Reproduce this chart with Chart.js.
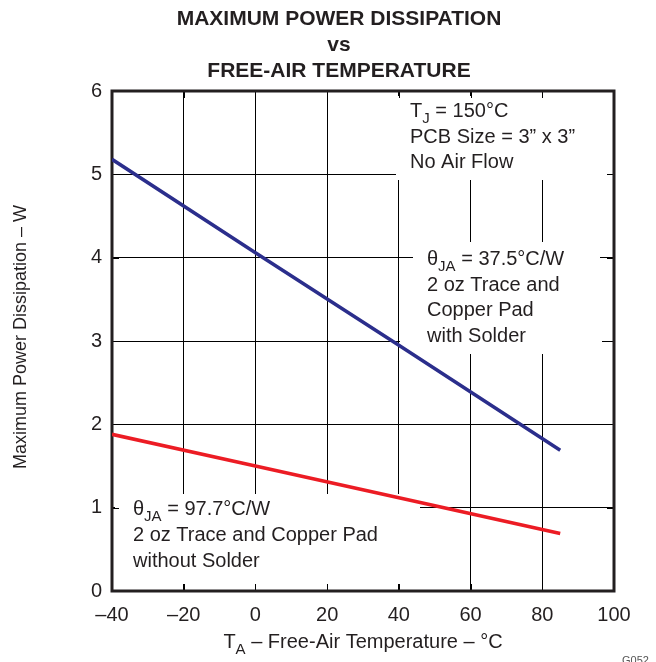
<!DOCTYPE html>
<html>
<head>
<meta charset="utf-8">
<script src="https://cdn.jsdelivr.net/npm/chart.js@4"></script>
<style>html,body{margin:0;padding:0;background:#fff;}</style>
</head>
<body>
<canvas id="myChart" width="656" height="662"></canvas>
<script>
// values
const temps = [-40, 0, 40, 85];
const power375 = [5.18, 4.06, 2.95, 1.69];   // theta JA = 37.5 C/W, with solder
const power977 = [1.88, 1.50, 1.12, 0.69];   // theta JA = 97.7 C/W, without solder
const xTickValues = [-40, -20, 0, 20, 40, 60, 80, 100];
const yTickValues = [0, 1, 2, 3, 4, 5, 6];

const ink = '#231f20';
const font = 'Liberation Sans, Arial, Helvetica, sans-serif';

function pts(xs, ys) {
  return xs.map((x, i) => ({x: x, y: ys[i]}));
}

// draw text with subscripts, parts = [[text, isSub], ...]
function rich(ctx, x, y, parts, size, align) {
  let w = 0;
  parts.forEach(p => {
    ctx.font = (p[1] ? Math.round(size * 0.75) : size) + 'px ' + font;
    w += ctx.measureText(p[0]).width;
  });
  let cx = align === 'center' ? x - w / 2 : x;
  parts.forEach(p => {
    const s = p[1] ? Math.round(size * 0.75) : size;
    ctx.font = s + 'px ' + font;
    ctx.fillText(p[0], cx, p[1] ? y + size * 0.3 : y);
    cx += ctx.measureText(p[0]).width;
  });
}

const boxes = [
  [396, 96, 609, 180],
  [413, 242, 600, 300],
  [400, 300, 602, 354],
  [115, 494, 420, 584]
];

const paper = {
  id: 'paper',
  beforeDatasetsDraw(chart) {
    const ctx = chart.ctx, a = chart.chartArea;
    const sx = chart.scales.x, sy = chart.scales.y;
    ctx.save();
    ctx.fillStyle = '#fff';
    boxes.forEach(b => ctx.fillRect(b[0], b[1], b[2] - b[0], b[3] - b[1]));
    // inner tick stubs
    ctx.strokeStyle = '#000';
    ctx.lineWidth = 1;
    ctx.beginPath();
    xTickValues.forEach(v => {
      const px = Math.round(sx.getPixelForValue(v)) + 0.5;
      ctx.moveTo(px, a.top); ctx.lineTo(px, a.top + 7);
      ctx.moveTo(px, a.bottom); ctx.lineTo(px, a.bottom - 7);
    });
    yTickValues.forEach(v => {
      const py = Math.round(sy.getPixelForValue(v)) + 0.5;
      ctx.moveTo(a.left, py); ctx.lineTo(a.left + 7, py);
      ctx.moveTo(a.right, py); ctx.lineTo(a.right - 7, py);
    });
    ctx.stroke();
    ctx.strokeStyle = ink;
    ctx.lineWidth = 3;
    ctx.strokeRect(a.left, a.top, a.right - a.left, a.bottom - a.top);
    ctx.restore();
  },
  afterDraw(chart) {
    const ctx = chart.ctx;
    ctx.save();
    ctx.fillStyle = ink;
    ctx.textBaseline = 'alphabetic';
    // title
    ctx.textAlign = 'center';
    ctx.font = 'bold 21px ' + font;
    ctx.fillText('MAXIMUM POWER DISSIPATION', 339, 25);
    ctx.fillText('vs', 339, 51);
    ctx.fillText('FREE-AIR TEMPERATURE', 339, 77);
    ctx.textAlign = 'left';
    // notes
    rich(ctx, 410, 117, [['T', false], ['J', true], [' = 150\u00b0C', false]], 20);
    rich(ctx, 410, 143, [['PCB Size = 3\u201d x 3\u201d', false]], 20);
    rich(ctx, 410, 168, [['No Air Flow', false]], 20);
    rich(ctx, 427, 265, [['\u03b8', false], ['JA', true], [' = 37.5\u00b0C/W', false]], 20);
    rich(ctx, 427, 291, [['2 oz Trace and', false]], 20);
    rich(ctx, 427, 316, [['Copper Pad', false]], 20);
    rich(ctx, 427, 342, [['with Solder', false]], 20);
    rich(ctx, 133, 515, [['\u03b8', false], ['JA', true], [' = 97.7\u00b0C/W', false]], 20);
    rich(ctx, 133, 541, [['2 oz Trace and Copper Pad', false]], 20);
    rich(ctx, 133, 567, [['without Solder', false]], 20);
    // axis titles
    rich(ctx, 363, 648, [['T', false], ['A', true], [' \u2013 Free-Air Temperature \u2013 \u00b0C', false]], 20, 'center');
    ctx.translate(26, 337);
    ctx.rotate(-Math.PI / 2);
    rich(ctx, 0, 0, [['Maximum Power Dissipation \u2013 W', false]], 18, 'center');
    ctx.restore();
    ctx.save();
    ctx.fillStyle = '#555';
    ctx.font = '11px ' + font;
    ctx.fillText('G052', 622, 664);
    ctx.restore();
  }
};

const data = {
  datasets: [{
    label: '37.5',
    data: pts(temps, power375),
    borderColor: '#2b2e8c',
    borderWidth: 3.5,
    showLine: true,
    pointRadius: 0,
    fill: false
  }, {
    label: '97.7',
    data: pts(temps, power977),
    borderColor: '#ec1c24',
    borderWidth: 3.5,
    showLine: true,
    pointRadius: 0,
    fill: false
  }]
};

const config = {
  type: 'scatter',
  data: data,
  plugins: [paper],
  options: {
    responsive: false,
    animation: false,
    devicePixelRatio: 1,
    layout: { padding: { top: 91, right: 42, left: 0, bottom: 0 } },
    plugins: { legend: { display: false }, tooltip: { enabled: false } },
    scales: {
      x: {
        type: 'linear',
        min: -40, max: 100,
        afterFit: s => { s.height = 71; },
        afterBuildTicks: s => { s.ticks = xTickValues.map(v => ({value: v})); },
        ticks: {
          padding: 12,
          color: ink,
          font: { family: font, size: 20 },
          callback: v => v < 0 ? '\u2013' + Math.abs(v) : '' + v
        },
        grid: { color: '#000', lineWidth: 1, drawTicks: false },
        border: { display: false }
      },
      y: {
        min: 0, max: 6,
        afterFit: s => { s.width = 112; },
        afterBuildTicks: s => { s.ticks = yTickValues.map(v => ({value: v})); },
        ticks: {
          padding: 10,
          color: ink,
          font: { family: font, size: 20 }
        },
        grid: { color: '#000', lineWidth: 1, drawTicks: false },
        border: { display: false }
      }
    }
  }
};

const myChart = new Chart(document.getElementById('myChart'), config);
</script>
</body>
</html>
